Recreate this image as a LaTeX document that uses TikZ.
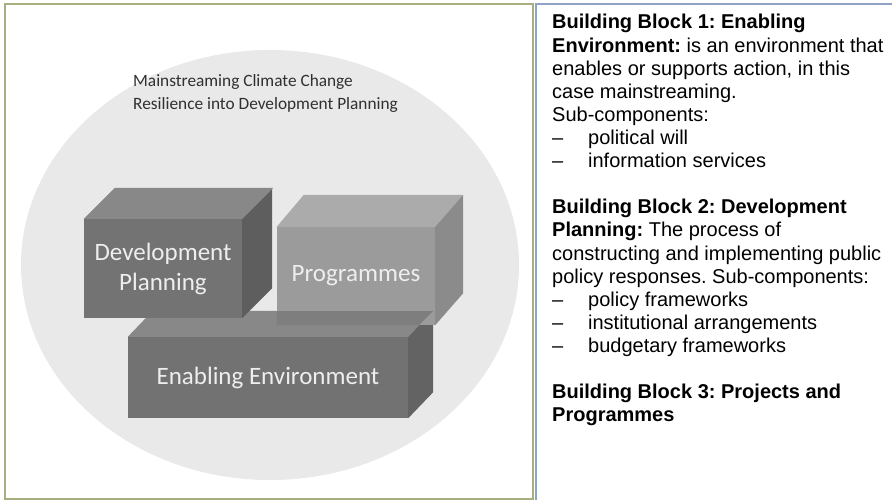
\documentclass[tikz,border=0pt]{standalone}
\usepackage{fontspec}
\setmainfont{Liberation Sans}
\newfontfamily\carlito{Carlito}
\frenchspacing
\definecolor{leftframe}{HTML}{A8AE80}
\definecolor{rightframe}{HTML}{8EA3C6}
\definecolor{ellfill}{HTML}{E9E9E9}
\definecolor{dpfront}{HTML}{737373}
\definecolor{dptop}{HTML}{888888}
\definecolor{dpside}{HTML}{5E5E5E}
\definecolor{pgfront}{HTML}{9B9B9B}
\definecolor{pgtop}{HTML}{ABABAB}
\definecolor{pgside}{HTML}{8B8B8B}
\definecolor{eefront}{HTML}{727272}
\definecolor{eetop}{HTML}{888888}
\definecolor{eeside}{HTML}{636363}
\definecolor{overlap}{HTML}{7E7E7E}
\definecolor{boxtext}{HTML}{EEEEEE}
\definecolor{titletext}{HTML}{303030}
\tikzset{
  frontface/.style={rectangle, inner sep=0pt, text=boxtext, align=center,
    font=\carlito\fontsize{25}{30}\selectfont},
  rline/.style={anchor=base west, inner sep=0pt, font=\fontsize{20}{23.1}\selectfont, text=black},
}
\newcommand\itemdash[1]{\makebox[36pt][l]{–}#1}
\begin{document}
\begin{tikzpicture}[x=1pt,y=-1pt]
\useasboundingbox (0,0) rectangle (892,500);
\fill[white] (0,0) rectangle (892,500);
% frames
\draw[leftframe, line width=1.5pt] (5,4) rectangle (533,499);
\draw[rightframe, line width=1.5pt] (536,500) -- (536,4) -- (893,4);
% ellipse
\fill[ellfill] (270,265) ellipse [x radius=249, y radius=215];
% title
\node[anchor=base west, inner sep=0pt, align=left, text=titletext,
  font=\carlito\fontsize{17.3}{23}\selectfont] (title) at (133,110)
  {Mainstreaming Climate Change\\Resilience into Development Planning};
% Enabling Environment block
\node[frontface, fill=eefront, minimum width=280pt, minimum height=81pt] (ee) at (268,377.5) {};
\fill[eetop] (ee.north west) -- ++(25,-26) -- ([shift={(25,-26)}]ee.north east) -- (ee.north east) -- cycle;
\fill[eeside] (ee.north east) -- ++(25,-26) -- ([shift={(25,-26)}]ee.south east) -- (ee.south east) -- cycle;
% Development Planning block
\node[frontface, fill=dpfront, minimum width=158pt, minimum height=99pt] (dp) at (163,268.5) {};
\fill[dptop] (dp.north west) -- ++(31,-31) -- ([shift={(31,-31)}]dp.north east) -- (dp.north east) -- cycle;
\fill[dpside] (dp.north east) -- ++(30,-30) -- ([shift={(30,-30)}]dp.south east) -- (dp.south east) -- cycle;
% Programmes block
\node[frontface, fill=pgfront, minimum width=158pt, minimum height=98pt] (pg) at (356,276) {};
\fill[pgtop] (pg.north west) -- ++(27,-32) -- ([shift={(28,-32)}]pg.north east) -- (pg.north east) -- cycle;
\fill[pgside] (pg.north east) -- ++(28,-32) -- ([shift={(28,-32)}]pg.south east) -- (pg.south east) -- cycle;
% overlap of Programmes with the top of Enabling Environment
\fill[overlap] (pg.south west) -- (pg.south west |- 0,311) -- (433,311) -- (419,325) -- cycle;
% box labels
\node[frontface] (dplabel) at (dp.center) {Development\\Planning};
\node[frontface] (pglabel) at (pg.center) {Programmes};
\node[frontface] (eelabel) at (ee.center) {Enabling Environment};
% right-hand text
\node[rline] (r1) at (552,29) {\textbf{Building Block 1: Enabling}};
\node[rline] (r2) at (552,52.1) {\textbf{Environment:} is an environment that};
\node[rline] (r3) at (552,75.2) {enables or supports action, in this};
\node[rline] (r4) at (552,98.3) {case mainstreaming.};
\node[rline] (r5) at (552,121.4) {Sub-components:};
\node[rline] (r6) at (552,144.5) {\itemdash{political will}};
\node[rline] (r7) at (552,167.6) {\itemdash{information services}};
\node[rline] (r8) at (552,213.8) {\textbf{Building Block 2: Development}};
\node[rline] (r9) at (552,236.9) {\textbf{Planning:} The process of};
\node[rline] (r10) at (552,260) {constructing and implementing public};
\node[rline] (r11) at (552,283.1) {policy responses. Sub-components:};
\node[rline] (r12) at (552,306.2) {\itemdash{policy frameworks}};
\node[rline] (r13) at (552,329.3) {\itemdash{institutional arrangements}};
\node[rline] (r14) at (552,352.4) {\itemdash{budgetary frameworks}};
\node[rline] (r15) at (552,398.6) {\textbf{Building Block 3: Projects and}};
\node[rline] (r16) at (552,421.7) {\textbf{Programmes}};
\end{tikzpicture}
\end{document}
